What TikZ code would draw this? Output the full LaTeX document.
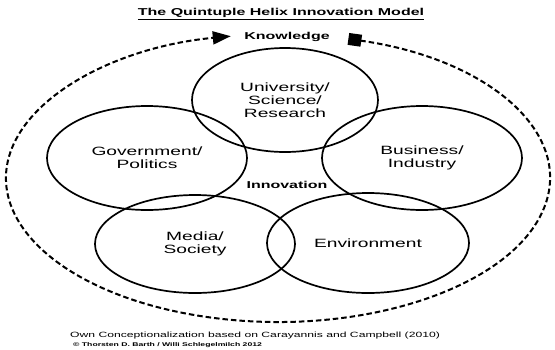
\documentclass[tikz,border=0pt]{standalone}
\usepackage{fontspec}
\setmainfont{Liberation Sans}[FakeStretch=1.6]
\usetikzlibrary{shapes.geometric, arrows.meta, positioning}

\begin{document}
\begin{tikzpicture}[x=1pt, y=-1pt,
    helix/.style={draw, ellipse, line width=1.7pt, inner sep=0pt, align=center,
        font=\fontsize{12}{13}\selectfont},
    keyword/.style={font=\fontsize{10}{12}\selectfont\bfseries}]
    \useasboundingbox (0,0) rectangle (555,349);

    \node[keyword] (title) at (281,14) {\underline{The Quintuple Helix Innovation Model}};

    % the five helices
    \node[helix, minimum width=186pt, minimum height=104pt] (uni) at (285,100) {University/\\Science/\\Research};
    \node[helix, minimum width=200pt, minimum height=104pt] (gov) at (147,158) {Government/\\Politics};
    \node[helix, minimum width=200pt, minimum height=104pt] (bus) at (422,158) {Business/\\Industry};
    \node[helix, minimum width=200pt, minimum height=98pt] (media) at (195,244) {Media/\\Society};
    \node[helix, minimum width=202pt, minimum height=100pt] (env) at (368,243) {Environment};

    \node[keyword] (inno) at (287,185) {Innovation};
    \node[keyword] (know) at (287,37) {Knowledge};

    % knowledge circulation
    \coordinate (hub) at (278,178);
    \draw[line width=2pt, dash pattern=on 5.5pt off 3pt,
        {Square[length=13pt,width=12pt]}-{Triangle[length=18pt,width=13pt]}]
        (hub) ++(-75:272 and 144) arc[start angle=-75, end angle=260, x radius=272, y radius=144];

    \node[anchor=base west, inner sep=0pt, font=\fontsize{7.6}{9}\selectfont] (source) at (70,337)
        {Own Conceptionalization based on Carayannis and Campbell (2010)};
    \node[anchor=base west, inner sep=0pt, font=\fontsize{5.4}{6}\selectfont\bfseries] (copy) at (73,346)
        {© Thorsten D. Barth / Willi Schlegelmilch 2012};
\end{tikzpicture}
\end{document}
